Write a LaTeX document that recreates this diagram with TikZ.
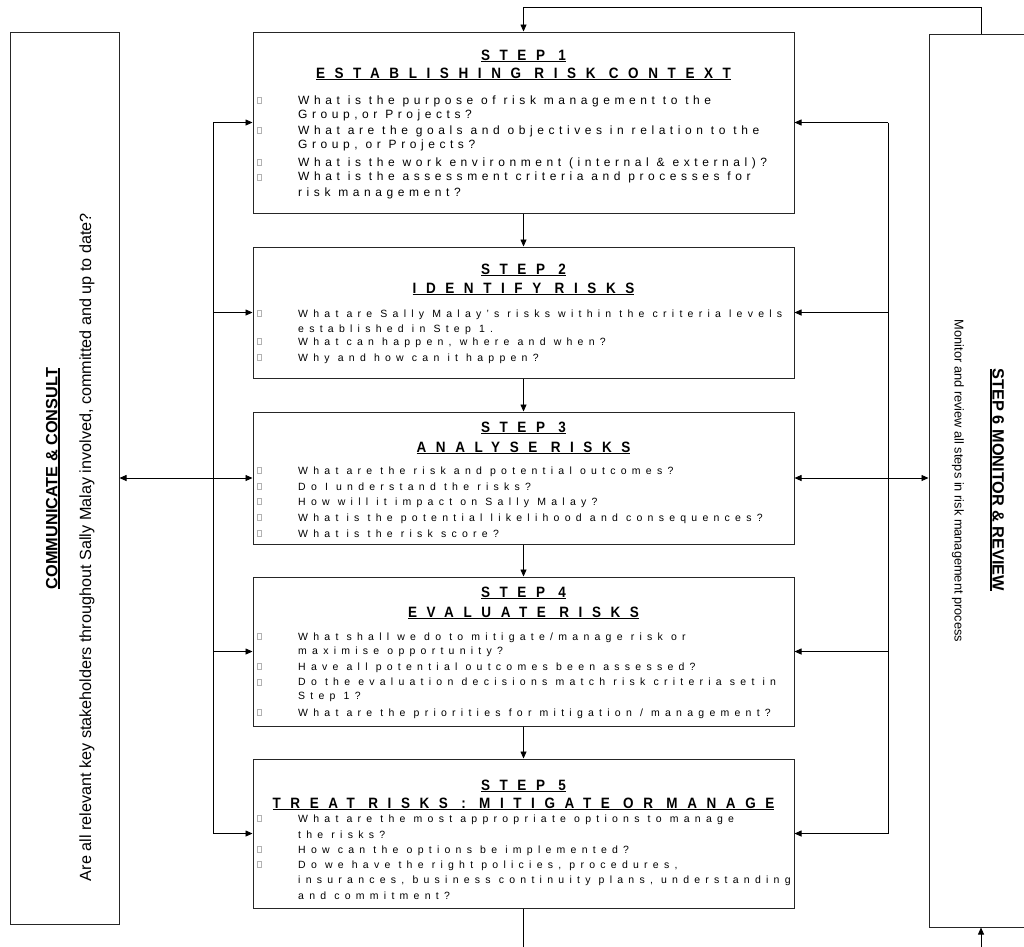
\documentclass[tikz,border=0pt]{standalone}
\usepackage{fontspec}
\setmainfont{Liberation Sans}
\newfontfamily\bodyf[LetterSpace=50]{Liberation Sans}
\newfontfamily\bodyfa[LetterSpace=38]{Liberation Sans}
\newfontfamily\headf[LetterSpace=64,FakeStretch=0.9]{Liberation Sans}
\usetikzlibrary{arrows.meta}
\newcommand\myul[2][1.3pt]{\setbox0\hbox{#2}\rlap{\rule[-2.4pt]{\wd0}{#1}}\box0}
\newcommand\bxmark{\raisebox{1pt}{\color{gray!60}\fboxsep=0pt\fboxrule=0.4pt\fbox{\rule{0pt}{5.5pt}\rule{3.5pt}{0pt}}}}
\newcommand\bitem[1]{\makebox[41pt][l]{\bxmark}#1}
\newcommand\citem[1]{\hspace*{41pt}#1}
\tikzset{
  stepbox/.style={draw=black!85, line width=1pt, minimum width=541pt, inner sep=0pt},
  sidebox/.style={draw=black!85, line width=1pt, inner sep=0pt},
  head/.style={anchor=base, inner sep=0pt, font=\headf\bfseries\fontsize{15}{17}\selectfont},
  body/.style={anchor=base west, inner sep=0pt, font=\bodyf\fontsize{10.5}{12}\selectfont},
  bodya/.style={anchor=base west, inner sep=0pt, font=\bodyfa\fontsize{12}{14}\selectfont},
  sidehead/.style={inner sep=0pt, font=\bfseries\fontsize{16.3}{18}\selectfont},
  sidetext/.style={inner sep=0pt, font=\fontsize{16.2}{18}\selectfont},
  arr/.style={-{Triangle[length=7pt,width=6pt]}, line width=0.8pt},
  darr/.style={{Triangle[length=7pt,width=6pt]}-{Triangle[length=7pt,width=6pt]}, line width=0.8pt},
  link/.style={line width=0.8pt}
}
\begin{document}
\begin{tikzpicture}[x=1pt,y=-1pt]
\useasboundingbox (0,0) rectangle (1024,946);
\clip (0,0) rectangle (1024,946);
\fill[white] (0,0) rectangle (1024,946);

% side boxes
\node[sidebox, minimum width=109pt, minimum height=892pt] (L) at (64.5,478) {};
\node[sidebox, minimum width=120pt, minimum height=893pt] (R) at (989,480.5) {};

\node[sidehead, rotate=90] (Lh) at (53,478.5) {\myul[1.4pt]{COMMUNICATE \& CONSULT}};
\node[sidetext, rotate=90] (Lt) at (87,547) {Are all relevant key stakeholders throughout Sally Malay involved, committed and up to date?};
\node[sidehead, rotate=-90] (Rh) at (997,480) {\myul[1.4pt]{STEP 6 MONITOR \& REVIEW}};
\node[sidetext, rotate=-90, font=\fontsize{12.8}{15}\selectfont] (Rt) at (958,481) {Monitor and review all steps in risk management process};

% step boxes
\node[stepbox, minimum height=181pt] (s1) at (523.5,122.5) {};
\node[stepbox, minimum height=131pt] (s2) at (523.5,312.5) {};
\node[stepbox, minimum height=132pt] (s3) at (523.5,478) {};
\node[stepbox, minimum height=149pt] (s4) at (523.5,651.5) {};
\node[stepbox, minimum height=149pt] (s5) at (523.5,833.5) {};

% step 1
\node[head] (h1a) at (523.5,60) {\myul{STEP 1}};
\node[head] (h1b) at (523.5,78) {\myul{ESTABLISHING RISK CONTEXT}};
\node[bodya] (b1a) at (257,104) {\bitem{What is the purpose of risk management to the}};
\node[bodya] (b1b) at (257,118.7) {\citem{Group,or Projects?}};
\node[bodya] (b1c) at (257,134) {\bitem{What are the goals and objectives in relation to the}};
\node[bodya] (b1d) at (257,148.7) {\citem{Group, or Projects?}};
\node[bodya] (b1e) at (257,166) {\bitem{What is the work environment (internal \& external)?}};
\node[bodya] (b1f) at (257,180.7) {\bitem{What is the assessment criteria and processes for}};
\node[bodya] (b1g) at (257,196) {\citem{risk management?}};

% step 2
\node[head] (h2a) at (523.5,274) {\myul{STEP 2}};
\node[head] (h2b) at (523.5,293) {\myul{IDENTIFY RISKS}};
\node[body] (b2a) at (257,317) {\bitem{What are Sally Malay’s risks within the criteria levels}};
\node[body] (b2b) at (257,332) {\citem{established in Step 1.}};
\node[body] (b2c) at (257,345) {\bitem{What can happen, where and when?}};
\node[body] (b2d) at (257,361) {\bitem{Why and how can it happen?}};

% step 3
\node[head] (h3a) at (523.5,432) {\myul{STEP 3}};
\node[head] (h3b) at (523.5,452) {\myul{ANALYSE RISKS}};
\node[body] (b3a) at (257,474) {\bitem{What are the risk and potential outcomes?}};
\node[body] (b3b) at (257,490) {\bitem{Do I understand the risks?}};
\node[body] (b3c) at (257,505) {\bitem{How will it impact on Sally Malay?}};
\node[body] (b3d) at (257,521) {\bitem{What is the potential likelihood and consequences?}};
\node[body] (b3e) at (257,537) {\bitem{What is the risk score?}};

% step 4
\node[head] (h4a) at (523.5,597) {\myul{STEP 4}};
\node[head] (h4b) at (523.5,617) {\myul{EVALUATE RISKS}};
\node[body] (b4a) at (257,640) {\bitem{What shall we do to mitigate/manage risk or}};
\node[body] (b4b) at (257,654.5) {\citem{maximise opportunity?}};
\node[body] (b4c) at (257,670) {\bitem{Have all potential outcomes been assessed?}};
\node[body] (b4d) at (257,685.5) {\bitem{Do the evaluation decisions match risk criteria set in}};
\node[body] (b4e) at (257,699.5) {\citem{Step 1?}};
\node[body] (b4f) at (257,716) {\bitem{What are the priorities for mitigation / management?}};

% step 5
\node[head] (h5a) at (523.5,790) {\myul{STEP 5}};
\node[head] (h5b) at (523.5,808) {\myul{TREAT RISKS : MITIGATE OR MANAGE}};
\node[body] (b5a) at (257,822) {\bitem{What are the most appropriate options to manage}};
\node[body] (b5b) at (257,838) {\citem{the risks?}};
\node[body] (b5c) at (257,853) {\bitem{How can the options be implemented?}};
\node[body] (b5d) at (257,868) {\bitem{Do we have the right policies, procedures,}};
\node[body] (b5e) at (257,883) {\citem{insurances, business continuity plans, understanding}};
\node[body] (b5f) at (257,899) {\citem{and commitment?}};

% coordinates for trunks and loop
\coordinate (lx) at (213,0);
\coordinate (rx) at (888,0);
\coordinate (tr) at (981,7);
\coordinate (tl) at (523.5,7);
\coordinate (bl) at (523.5,952);
\coordinate (br) at (981,952);

% main flow
\draw[arr] (s1.south) -- (s2.north);
\draw[arr] (s2.south) -- (s3.north);
\draw[arr] (s3.south) -- (s4.north);
\draw[arr] (s4.south) -- (s5.north);

% feedback loop
\draw[arr] (tr |- R.north) -- (tr) -- (tl) -- (s1.north);
\draw[link] (s5.south) -- (bl);
\draw[arr] (br) -- (br |- R.south);

% left trunk
\draw[link] (s1.west -| lx) -- (s5.west -| lx);
\draw[arr] (s1.west -| lx) -- (s1.west);
\draw[arr] (s2.west -| lx) -- (s2.west);
\draw[arr] (s4.west -| lx) -- (s4.west);
\draw[arr] (s5.west -| lx) -- (s5.west);
\draw[darr] (s3.west -| L.east) -- (s3.west);

% right trunk
\draw[link] (s1.east -| rx) -- (s5.east -| rx);
\draw[arr] (s1.east -| rx) -- (s1.east);
\draw[arr] (s2.east -| rx) -- (s2.east);
\draw[arr] (s4.east -| rx) -- (s4.east);
\draw[arr] (s5.east -| rx) -- (s5.east);
\draw[darr] (s3.east) -- (s3.east -| R.west);
\end{tikzpicture}
\end{document}
